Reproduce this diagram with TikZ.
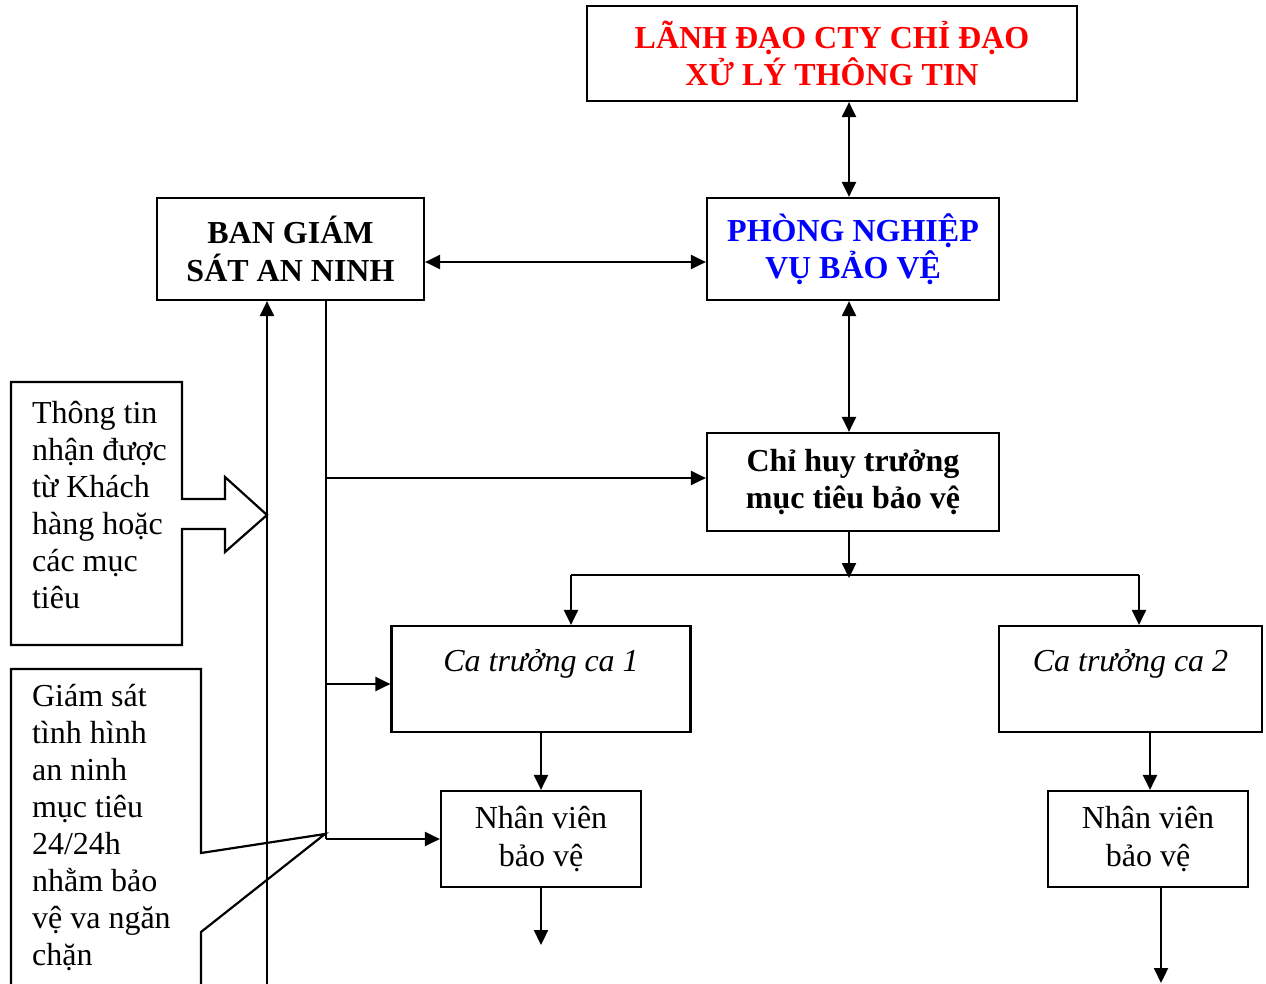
\documentclass[tikz,border=0pt]{standalone}
\usepackage{fontspec}
\setmainfont{Liberation Serif}
\usetikzlibrary{arrows.meta}
\definecolor{tred}{RGB}{255,0,0}
\definecolor{tblue}{RGB}{0,0,255}
\begin{document}
\begin{tikzpicture}[x=1pt,y=-1pt,line width=2.2pt,
  >={Triangle[length=15pt,width=14pt]},
  box/.style={draw,line width=2.2pt,inner sep=0pt,align=center,font=\fontsize{32}{37.5}\selectfont},
  txt/.style={inner sep=0pt,align=left,font=\fontsize{32}{37}\selectfont,anchor=west}]
\clip (0,0) rectangle (1266,983);
\fill[white] (0,0) rectangle (1266,983);

% boxes
\node[box,minimum width=490,minimum height=95,text=tred,font=\fontsize{32}{37.5}\selectfont\bfseries] (top) at (832,53.5)
  {LÃNH ĐẠO CTY CHỈ ĐẠO\\XỬ LÝ THÔNG TIN};
\node[box,minimum width=292,minimum height=102,text=tblue,font=\fontsize{32}{37.5}\selectfont\bfseries] (phong) at (853,249)
  {PHÒNG NGHIỆP\\VỤ BẢO VỆ};
\node[box,minimum width=267,minimum height=102,font=\fontsize{32}{37.5}\selectfont\bfseries] (ban) at (290.5,249)
  {BAN GIÁM\\SÁT AN NINH};
\node[box,minimum width=292,minimum height=98,font=\fontsize{32}{37.5}\selectfont\bfseries] (chi) at (853,482)
  {Chỉ huy trưởng\\mục tiêu bảo vệ};
\node[box,minimum width=299,minimum height=106,font=\fontsize{32}{37.5}\selectfont\itshape] (ca1) at (541,679)
  {Ca trưởng ca 1\\~};
\node[box,minimum width=263,minimum height=106,font=\fontsize{32}{37.5}\selectfont\itshape] (ca2) at (1130.5,679)
  {Ca trưởng ca 2\\~};
\node[box,minimum width=200,minimum height=96] (nv1) at (541,839) {Nhân viên\\bảo vệ};
\node[box,minimum width=200,minimum height=96] (nv2) at (1148,839) {Nhân viên\\bảo vệ};

% callouts
\draw (11,382) -- (182,382) -- (182,499) -- (225,499) -- (225,477) -- (267,515)
  -- (225,552) -- (225,529) -- (182,529) -- (182,645) -- (11,645) -- cycle;
\node[txt] (t1) at (31,505) {Thông tin\\nhận được\\từ Khách\\hàng hoặc\\các mục\\tiêu};
\draw (11,995) -- (11,669) -- (201,669) -- (201,853) -- (325,834) -- (201,932) -- (201,995);
\node[txt] (t2) at (31,828) {Giám sát\\tình hình\\an ninh\\mục tiêu\\24/24h\\nhằm bảo\\vệ va ngăn\\chặn};

% connectors
\draw[<->] ([xshift=-4pt]phong.north |- top.south) -- ([xshift=-4pt]phong.north);
\draw[<->] ([yshift=-13pt]ban.east) -- ([yshift=-13pt]phong.west);
\draw[<->] ([xshift=-4pt]phong.south) -- ([xshift=-4pt]chi.north);

\coordinate (split) at (849,578);
\coordinate (bl) at (571,575);
\coordinate (br) at (1139,575);
\draw[->] ([xshift=-4pt]chi.south) -- (split);
\draw (bl) -- (br);
\draw[->] (bl) -- (bl |- ca1.north);
\draw[->] (br) -- (br |- ca2.north);
\draw[->] (ca1.south) -- (nv1.north);
\draw[->] ([xshift=2pt]nv2.north |- ca2.south) -- ([xshift=2pt]nv2.north);
\coordinate (o1) at (541,945);
\coordinate (o2) at (1161,983);
\draw[->] (nv1.south) -- (o1);
\draw[->] (o2 |- nv2.south) -- (o2);

\coordinate (b1) at (267,995);
\draw[->] (b1) -- (b1 |- ban.south);
\coordinate (j1) at (326,478);
\coordinate (j2) at (326,684);
\coordinate (j3) at (326,839);
\draw (j1 |- ban.south) -- (j3);
\draw[->] (j1) -- (j1 -| chi.west);
\draw[->] (j2) -- (j2 -| ca1.west);
\draw[->] (j3) -- (j3 -| nv1.west);
\end{tikzpicture}
\end{document}
